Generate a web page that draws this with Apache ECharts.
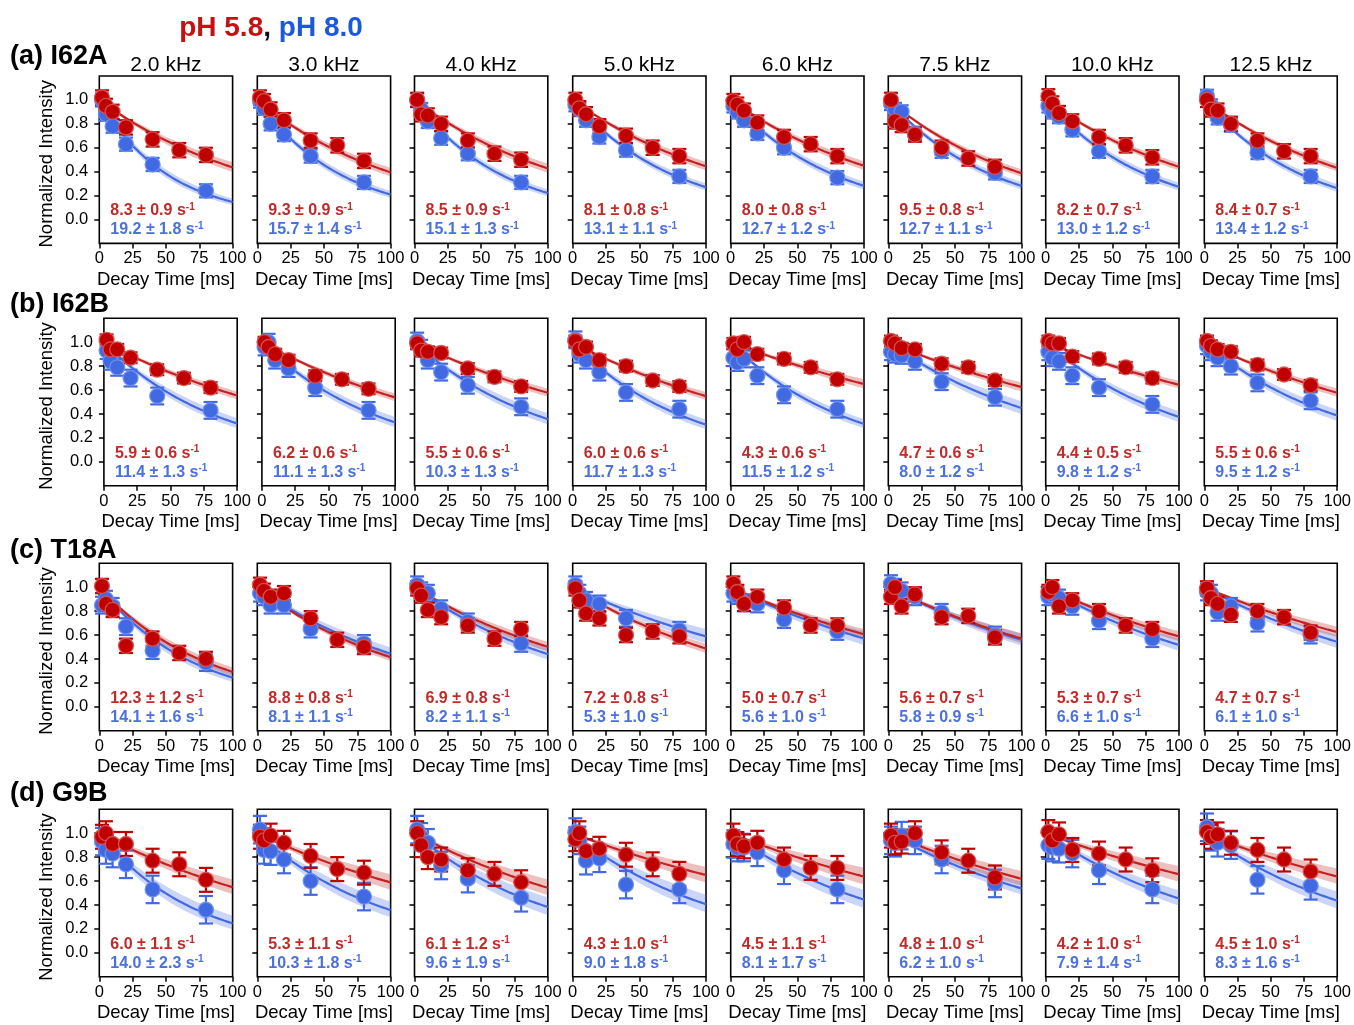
<!DOCTYPE html>
<html>
<head>
<meta charset="utf-8">
<script src="https://cdn.jsdelivr.net/npm/echarts@6/dist/echarts.min.js"></script>
<style>
  html, body { margin: 0; padding: 0; background: #fff; }
  #chart { width: 1354px; height: 1025px; }
</style>
</head>
<body>
<div id="chart"></div>
<script>
// ---- Data -----------------------------------------------------------------
const freqLabels = ['2.0 kHz', '3.0 kHz', '4.0 kHz', '5.0 kHz', '6.0 kHz', '7.5 kHz', '10.0 kHz', '12.5 kHz'];
const rowLabels = ['(a) I62A', '(b) I62B', '(c) T18A', '(d) G9B'];
const timesRed = [2, 5, 10, 20, 40, 60, 80];   // decay times, pH 5.8 [ms]
const timesBlue = [2, 5, 10, 20, 40, 80];      // decay times, pH 8.0 [ms]
const yTickValues = [0, 0.2, 0.4, 0.6, 0.8, 1.0];

// normalized intensities, one list per frequency
const I62A_red = [
  [1.02, 0.95, 0.90, 0.77, 0.67, 0.58, 0.54],
  [1.02, 0.99, 0.92, 0.83, 0.66, 0.62, 0.49],
  [1.00, 0.88, 0.87, 0.80, 0.66, 0.55, 0.50],
  [1.00, 0.93, 0.88, 0.78, 0.70, 0.60, 0.53],
  [0.99, 0.96, 0.91, 0.81, 0.69, 0.63, 0.53],
  [1.00, 0.82, 0.79, 0.71, 0.60, 0.51, 0.44],
  [1.03, 0.97, 0.89, 0.82, 0.69, 0.62, 0.52],
  [1.00, 0.92, 0.91, 0.80, 0.66, 0.57, 0.53]
];
const I62A_blue = [
  [1.00, 0.88, 0.78, 0.63, 0.46, 0.24],
  [0.99, 0.93, 0.80, 0.71, 0.53, 0.31],
  [1.00, 0.92, 0.82, 0.68, 0.55, 0.31],
  [0.96, 0.92, 0.83, 0.69, 0.58, 0.36],
  [0.95, 0.90, 0.83, 0.72, 0.60, 0.35],
  [0.97, 0.92, 0.90, 0.72, 0.57, 0.39],
  [0.95, 0.90, 0.86, 0.75, 0.57, 0.36],
  [1.03, 0.95, 0.85, 0.79, 0.56, 0.36]
];
const I62B_red = [
  [1.02, 0.94, 0.94, 0.87, 0.77, 0.70, 0.62],
  [1.00, 0.96, 0.90, 0.85, 0.72, 0.69, 0.61],
  [0.99, 0.93, 0.92, 0.91, 0.78, 0.71, 0.63],
  [1.01, 0.94, 0.96, 0.85, 0.80, 0.68, 0.63],
  [0.99, 0.94, 1.00, 0.90, 0.86, 0.79, 0.69],
  [1.01, 0.99, 0.95, 0.94, 0.82, 0.79, 0.68],
  [1.01, 0.99, 0.99, 0.88, 0.86, 0.79, 0.70],
  [1.01, 0.97, 0.94, 0.92, 0.81, 0.73, 0.64]
];
const I62B_blue = [
  [0.93, 0.84, 0.79, 0.70, 0.55, 0.43],
  [0.96, 1.00, 0.85, 0.78, 0.62, 0.43],
  [1.01, 0.95, 0.85, 0.75, 0.64, 0.46],
  [1.02, 0.90, 0.85, 0.75, 0.58, 0.44],
  [0.87, 0.83, 0.86, 0.72, 0.56, 0.44],
  [0.92, 0.90, 0.89, 0.84, 0.67, 0.54],
  [0.92, 0.87, 0.84, 0.72, 0.62, 0.48],
  [0.97, 0.92, 0.87, 0.80, 0.66, 0.51]
];
const T18A_red = [
  [1.01, 0.86, 0.81, 0.51, 0.57, 0.45, 0.40],
  [1.02, 0.97, 0.92, 0.95, 0.74, 0.56, 0.50],
  [0.99, 0.93, 0.81, 0.75, 0.68, 0.57, 0.65],
  [0.99, 0.89, 0.78, 0.74, 0.60, 0.63, 0.59],
  [1.03, 0.96, 0.86, 0.92, 0.83, 0.68, 0.68],
  [0.92, 1.00, 0.84, 0.94, 0.75, 0.76, 0.58],
  [0.96, 1.00, 0.84, 0.89, 0.80, 0.68, 0.65],
  [0.99, 0.91, 0.86, 0.77, 0.80, 0.75, 0.62]
];
const T18A_blue = [
  [0.85, 0.90, 0.84, 0.67, 0.47, 0.37],
  [0.95, 0.92, 0.85, 0.85, 0.65, 0.53],
  [1.02, 0.97, 0.95, 0.82, 0.71, 0.53],
  [1.02, 0.95, 0.89, 0.86, 0.74, 0.64],
  [0.95, 0.93, 0.87, 0.86, 0.73, 0.63],
  [1.03, 1.00, 0.97, 0.92, 0.79, 0.60],
  [0.92, 0.94, 0.91, 0.84, 0.72, 0.57],
  [0.96, 0.95, 0.79, 0.84, 0.70, 0.60]
];
const G9B_red = [
  [0.97, 1.00, 0.91, 0.91, 0.77, 0.74, 0.61],
  [0.97, 0.94, 0.98, 0.92, 0.81, 0.70, 0.67],
  [1.00, 0.90, 0.80, 0.78, 0.69, 0.66, 0.59],
  [0.95, 1.00, 0.85, 0.87, 0.82, 0.74, 0.66],
  [0.98, 0.91, 0.89, 0.92, 0.78, 0.71, 0.71],
  [0.98, 0.92, 0.93, 1.00, 0.84, 0.77, 0.63],
  [1.01, 0.94, 0.99, 0.86, 0.83, 0.78, 0.69],
  [1.01, 0.97, 0.99, 0.92, 0.86, 0.78, 0.68]
];
const G9B_blue = [
  [0.93, 0.86, 0.83, 0.74, 0.53, 0.36],
  [1.03, 0.86, 0.85, 0.78, 0.60, 0.47],
  [1.03, 0.97, 0.92, 0.73, 0.62, 0.46],
  [1.01, 0.94, 0.77, 0.79, 0.57, 0.53],
  [0.91, 0.88, 0.88, 0.84, 0.69, 0.53],
  [0.94, 0.92, 0.98, 0.94, 0.78, 0.58],
  [0.90, 0.88, 0.87, 0.83, 0.69, 0.53],
  [1.05, 0.97, 0.92, 0.90, 0.61, 0.56]
];

// fitted decay rates [s^-1] as [rate, uncertainty]
const I62A_rateRed  = [[8.3,0.9],[9.3,0.9],[8.5,0.9],[8.1,0.8],[8.0,0.8],[9.5,0.8],[8.2,0.7],[8.4,0.7]];
const I62A_rateBlue = [[19.2,1.8],[15.7,1.4],[15.1,1.3],[13.1,1.1],[12.7,1.2],[12.7,1.1],[13.0,1.2],[13.4,1.2]];
const I62B_rateRed  = [[5.9,0.6],[6.2,0.6],[5.5,0.6],[6.0,0.6],[4.3,0.6],[4.7,0.6],[4.4,0.5],[5.5,0.6]];
const I62B_rateBlue = [[11.4,1.3],[11.1,1.3],[10.3,1.3],[11.7,1.3],[11.5,1.2],[8.0,1.2],[9.8,1.2],[9.5,1.2]];
const T18A_rateRed  = [[12.3,1.2],[8.8,0.8],[6.9,0.8],[7.2,0.8],[5.0,0.7],[5.6,0.7],[5.3,0.7],[4.7,0.7]];
const T18A_rateBlue = [[14.1,1.6],[8.1,1.1],[8.2,1.1],[5.3,1.0],[5.6,1.0],[5.8,0.9],[6.6,1.0],[6.1,1.0]];
const G9B_rateRed   = [[6.0,1.1],[5.3,1.1],[6.1,1.2],[4.3,1.0],[4.5,1.1],[4.8,1.0],[4.2,1.0],[4.5,1.0]];
const G9B_rateBlue  = [[14.0,2.3],[10.3,1.8],[9.6,1.9],[9.0,1.8],[8.1,1.7],[6.2,1.0],[7.9,1.4],[8.3,1.6]];

// intensity uncertainty per residue row
const errRed  = [0.06, 0.045, 0.06, 0.10];
const errBlue = [0.055, 0.07, 0.07, 0.115];

const rows = [
  { red: I62A_red, blue: I62A_blue, rateRed: I62A_rateRed, rateBlue: I62A_rateBlue },
  { red: I62B_red, blue: I62B_blue, rateRed: I62B_rateRed, rateBlue: I62B_rateBlue },
  { red: T18A_red, blue: T18A_blue, rateRed: T18A_rateRed, rateBlue: T18A_rateBlue },
  { red: G9B_red,  blue: G9B_blue,  rateRed: G9B_rateRed,  rateBlue: G9B_rateBlue }
];

// ---- Layout & style -------------------------------------------------------
const FONT = '"Liberation Sans", Arial, Helvetica, sans-serif';
const RED = '#c00000', BLUE = '#4169e1';
const RED_TXT = '#c22a2a', BLUE_TXT = '#4a70e2';
const colLeft = [99.3, 257.3, 414.5, 572.7, 730.7, 888.3, 1045.7, 1204.3];
const rowTop = [76, 318.3, 563.3, 809.3];
const rowLabelY = [57, 305, 551, 794];
const PW = 133.3, PH = 167.4;

// sample times for drawing the fitted exponential
const fitT = [];
for (let t = 0; t <= 100; t += 2) fitT.push(t);

const grid = [], xAxis = [], yAxis = [], series = [], graphic = [];

function decay(rate, t) { return Math.exp(-rate * t / 1000); }

function bandSeries(idx, rate, err, fill) {
  const pts = fitT.map(t => [t, decay(rate + err, t), decay(rate - err, t)]);
  return {
    type: 'custom', xAxisIndex: idx, yAxisIndex: idx, silent: true,
    data: pts, encode: { x: 0, y: [1, 2] }, z: 1,
    renderItem(params, api) {
      if (params.dataIndex !== 0) return null;
      const up = pts.map(p => api.coord([p[0], p[2]]));
      const lo = pts.map(p => api.coord([p[0], p[1]])).reverse();
      return { type: 'polygon', shape: { points: up.concat(lo) }, style: { fill: fill } };
    }
  };
}

function lineSeries(idx, rate, color) {
  return {
    type: 'line', xAxisIndex: idx, yAxisIndex: idx, silent: true, z: 2,
    data: fitT.map(t => [t, decay(rate, t)]),
    showSymbol: false, symbol: 'none',
    lineStyle: { color: color, width: 2.2 }
  };
}

function errSeries(idx, times, vals, err, color) {
  return {
    type: 'custom', xAxisIndex: idx, yAxisIndex: idx, silent: true, z: 3,
    data: times.map((t, i) => [t, vals[i], err]),
    encode: { x: 0, y: 1 },
    renderItem(params, api) {
      const t = api.value(0), v = api.value(1), e = api.value(2);
      const a = api.coord([t, v + e]), b = api.coord([t, v - e]);
      const hw = 7, st = { stroke: color, lineWidth: 2.2 };
      return { type: 'group', children: [
        { type: 'line', shape: { x1: a[0], y1: a[1], x2: b[0], y2: b[1] }, style: st },
        { type: 'line', shape: { x1: a[0] - hw, y1: a[1], x2: a[0] + hw, y2: a[1] }, style: st },
        { type: 'line', shape: { x1: b[0] - hw, y1: b[1], x2: b[0] + hw, y2: b[1] }, style: st }
      ]};
    }
  };
}

function pointSeries(idx, times, vals, color, edge) {
  return {
    type: 'scatter', xAxisIndex: idx, yAxisIndex: idx, silent: true, z: 4,
    data: times.map((t, i) => [t, vals[i]]),
    symbol: 'circle', symbolSize: 15,
    itemStyle: { color: color, borderColor: edge, borderWidth: 1.3, opacity: 1 }
  };
}

function rateText(x, y, pair, color) {
  return {
    type: 'text', x: x, y: y, z: 50, silent: true,
    style: {
      text: '{v|' + pair[0].toFixed(1) + ' \u00b1 ' + pair[1].toFixed(1) + ' s}{s|-1}',
      verticalAlign: 'middle', textVerticalAlign: 'middle', textAlign: 'left',
      rich: {
        v: { fontSize: 16, fontWeight: 'bold', fontFamily: FONT, fill: color, color: color, lineHeight: 18 },
        s: { fontSize: 10, fontWeight: 'bold', fontFamily: FONT, fill: color, color: color, lineHeight: 10, verticalAlign: 'top' }
      }
    }
  };
}

const axisTxt = { color: '#000', fontFamily: FONT };

rows.forEach((row, r) => {
  for (let c = 0; c < 8; c++) {
    const idx = r * 8 + c;
    const left = colLeft[c] + (r === 1 && c < 2 ? 4.6 : 0);
    const top = rowTop[r];
    grid.push({ left: left, top: top, width: PW, height: PH, show: true,
      borderColor: '#000', borderWidth: 1.6, backgroundColor: 'transparent' });
    xAxis.push({
      gridIndex: idx, type: 'value', min: 0, max: 100, interval: 25, position: 'bottom',
      axisLine: { show: false, onZero: false },
      axisTick: { show: true, length: 5, lineStyle: { color: '#000', width: 1.5 } },
      axisLabel: Object.assign({ margin: 7, fontSize: 16.5, showMinLabel: true, showMaxLabel: true, hideOverlap: false }, axisTxt),
      splitLine: { show: false },
      name: 'Decay Time [ms]', nameLocation: 'middle', nameGap: 27,
      nameTextStyle: Object.assign({ fontSize: 18.5 }, axisTxt)
    });
    yAxis.push({
      gridIndex: idx, type: 'value', min: -0.2, max: 1.2, interval: 0.2, position: 'left',
      axisLine: { show: false, onZero: false },
      axisTick: { show: true, length: 5, customValues: yTickValues, lineStyle: { color: '#000', width: 1.5 } },
      axisLabel: Object.assign({ show: c === 0, margin: 11, fontSize: 16.5, customValues: yTickValues,
        formatter: v => v.toFixed(1) }, axisTxt),
      splitLine: { show: false }
    });

    series.push(bandSeries(idx, row.rateBlue[c][0], row.rateBlue[c][1], 'rgba(65,105,225,0.28)'));
    series.push(bandSeries(idx, row.rateRed[c][0], row.rateRed[c][1], 'rgba(192,30,30,0.28)'));
    series.push(lineSeries(idx, row.rateBlue[c][0], BLUE));
    series.push(lineSeries(idx, row.rateRed[c][0], '#c42222'));
    series.push(errSeries(idx, timesBlue, row.blue[c], errBlue[r], BLUE));
    series.push(pointSeries(idx, timesBlue, row.blue[c], BLUE, 'rgba(110,145,240,0.9)'));
    series.push(errSeries(idx, timesRed, row.red[c], errRed[r], RED));
    series.push(pointSeries(idx, timesRed, row.red[c], RED, 'rgba(215,85,85,0.9)'));

    graphic.push(rateText(left + 11, top + 135, row.rateRed[c], RED_TXT));
    graphic.push(rateText(left + 11, top + 154, row.rateBlue[c], BLUE_TXT));

    if (r === 0) {
      graphic.push({ type: 'text', x: left + PW / 2, y: 65, silent: true,
        style: { text: freqLabels[c], font: '21px ' + FONT, fill: '#000',
          textAlign: 'center', verticalAlign: 'middle', textVerticalAlign: 'middle' } });
    }
    if (c === 0) {
      graphic.push({ type: 'text', x: 46.5, y: top + PH / 2 + 4, rotation: Math.PI / 2, silent: true,
        style: { text: 'Normalized Intensity', font: '18.5px ' + FONT, fill: '#000',
          textAlign: 'center', verticalAlign: 'middle', textVerticalAlign: 'middle' } });
    }
  }
  graphic.push({ type: 'text', x: 10, y: rowLabelY[r], silent: true,
    style: { text: rowLabels[r], font: 'bold 27px ' + FONT, fill: '#000',
      textAlign: 'left', verticalAlign: 'middle', textVerticalAlign: 'middle' } });
});

// pH legend heading
graphic.push({
  type: 'text', x: 271, y: 28, silent: true,
  style: {
    text: '{r|pH 5.8}{k|, }{b|pH 8.0}', textAlign: 'center', verticalAlign: 'middle', textVerticalAlign: 'middle',
    rich: {
      r: { fontSize: 28, fontWeight: 'bold', fontFamily: FONT, fill: '#c81010', color: '#c81010' },
      k: { fontSize: 28, fontWeight: 'bold', fontFamily: FONT, fill: '#111', color: '#111' },
      b: { fontSize: 28, fontWeight: 'bold', fontFamily: FONT, fill: '#1a58e0', color: '#1a58e0' }
    }
  }
});

const chart = echarts.init(document.getElementById('chart'), null, { renderer: 'canvas' });
chart.setOption({
  animation: false,
  backgroundColor: '#fff',
  grid: grid, xAxis: xAxis, yAxis: yAxis, series: series, graphic: graphic
});
</script>
</body>
</html>
